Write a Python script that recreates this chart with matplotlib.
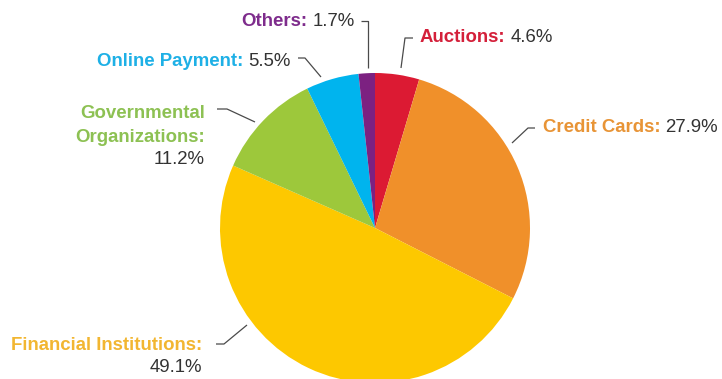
import matplotlib
matplotlib.use("Agg")
import matplotlib.pyplot as plt

# Market shares, clockwise from 12 o'clock
categories = ["Auctions", "Credit Cards", "Financial Institutions",
              "Governmental\nOrganizations", "Online Payment", "Others"]
shares = [4.6, 27.9, 49.1, 11.2, 5.5, 1.7]
value_labels = ["4.6%", "27.9%", "49.1%", "11.2%", "5.5%", "1.7%"]

wedge_colors = ["#dc1a33", "#f0902a", "#fdc800", "#9dc83b", "#00b4ee", "#7c2181"]
label_colors = ["#d4203a", "#e89436", "#f2b631", "#8dc153", "#1eb0e6", "#7e2c8c"]

W, H = 722, 379
FONT = "Liberation Sans"
FS = 13.4
GRAY = "#333333"
LEADER = "#4a4a4a"

# label layout in pixel coordinates (y measured from top):
# (x, y, mode, leader polyline)
layout = [
    (420, 38, "inline_left", [(413, 38), (405, 38), (401, 68)]),
    (543, 127, "inline_left", [(535, 128), (528, 128), (512, 143)]),
    (202, 345, "stack_right", [(216, 344), (224, 344), (247, 325)]),
    (205, 113, "stack_right", [(217, 109), (227, 109), (255, 122)]),
    (291, 61, "inline_right", [(298, 58), (305, 58), (321, 77)]),
    (355, 22, "inline_right", [(361, 21), (368, 21), (368, 68)]),
]

fig = plt.figure(figsize=(W / 100, H / 100), dpi=100)
ax = fig.add_axes([0, 0, 1, 1])
ax.pie(shares, colors=wedge_colors, startangle=90, counterclock=False,
       center=(375, H - 228), radius=155,
       wedgeprops=dict(linewidth=0, antialiased=True))
ax.set_xlim(0, W)
ax.set_ylim(0, H)
ax.set_aspect("auto")
ax.axis("off")

renderer = fig.canvas.get_renderer()


def text_width(t):
    return t.get_window_extent(renderer=renderer).width


for name, val, ncol, (x, y, mode, leader) in zip(categories, value_labels,
                                                 label_colors, layout):
    yy = H - y
    if mode == "inline_left":
        t = ax.text(x, yy, name + ":", ha="left", va="center", fontsize=FS,
                    fontweight="bold", color=ncol, family=FONT)
        w = text_width(t)
        ax.text(x + w + 5, yy, val, ha="left", va="center", fontsize=FS,
                color=GRAY, family=FONT)
    elif mode == "inline_right":
        v = ax.text(x, yy, val, ha="right", va="center", fontsize=FS,
                    color=GRAY, family=FONT)
        w = text_width(v)
        ax.text(x - w - 5, yy, name + ":", ha="right", va="center",
                fontsize=FS, fontweight="bold", color=ncol, family=FONT)
    else:
        lines = (name + ":").split("\n")
        for i, ln in enumerate(lines):
            ax.text(x, yy - i * 24, ln, ha="right", va="center", fontsize=FS,
                    fontweight="bold", color=ncol, family=FONT)
        ax.text(x, yy - len(lines) * 24 + 1, val, ha="right", va="center",
                fontsize=FS, color=GRAY, family=FONT)
    xs = [p[0] for p in leader]
    ys = [H - p[1] for p in leader]
    ax.plot(xs, ys, color=LEADER, lw=0.9, solid_capstyle="butt")

fig.savefig("out.png", dpi=100, facecolor="white")
